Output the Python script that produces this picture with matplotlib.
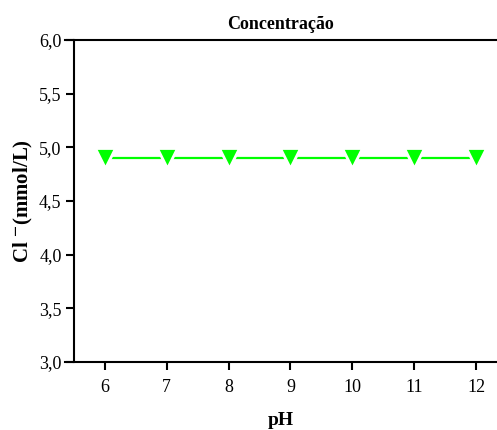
# Cl- concentration vs pH

import numpy as np
import matplotlib.pyplot as plt

plt.rcParams["font.family"] = "Liberation Serif"
plt.rcParams["mathtext.fontset"] = "stix"

# data
ph = [6, 7, 8, 9, 10, 11, 12]
cl_conc = [4.9, 4.9, 4.9, 4.9, 4.9, 4.9, 4.9]

y_ticks = [3.0, 3.5, 4.0, 4.5, 5.0, 5.5, 6.0]
y_tick_labels = ["3,0", "3,5", "4,0", "4,5", "5,0", "5,5", "6,0"]

fig = plt.figure(figsize=(4.97, 4.30), dpi=100)
ax = fig.add_axes([65 / 497, 1 - 362 / 430, 432 / 497, 322 / 430])

ax.plot(ph, cl_conc, color="#00ff00", lw=1.6, marker="v", ms=14,
        markerfacecolor="#00ff00", markeredgecolor="white", markeredgewidth=2)

ax.set_xlim(5.354, 12.34)
ax.set_ylim(3.0, 6.0)
ax.set_xticks(ph)
ax.set_yticks(y_ticks)
ax.set_yticklabels(y_tick_labels)

ax.spines["right"].set_visible(False)
ax.spines["left"].set_position(("data", 5.5))
for s in ["left", "bottom", "top"]:
    ax.spines[s].set_linewidth(1.5)
ax.tick_params(axis="both", direction="out", length=6, width=1.5, labelsize=13)
ax.tick_params(axis="x", pad=6)
ax.tick_params(axis="y", pad=3)

ax.set_title("Concentração", fontsize=13, fontweight="bold", pad=8)
ax.set_xlabel("pH", fontsize=14, fontweight="bold", labelpad=12)
ax.set_ylabel(r"Cl $^{\mathbf{-}}$(mmol/L)", fontsize=15, fontweight="bold", labelpad=3)

fig.savefig("out.png", dpi=100)
